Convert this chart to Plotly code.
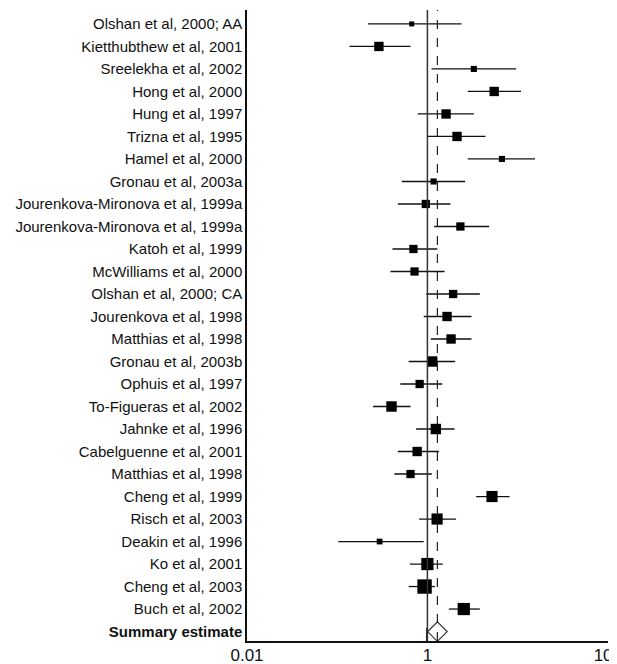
import plotly.graph_objects as go

studies = [
    "Olshan et al, 2000; AA", "Kietthubthew et al, 2001", "Sreelekha et al, 2002",
    "Hong et al, 2000", "Hung et al, 1997", "Trizna et al, 1995", "Hamel et al, 2000",
    "Gronau et al, 2003a", "Jourenkova-Mironova et al, 1999a",
    "Jourenkova-Mironova et al, 1999a", "Katoh et al, 1999", "McWilliams et al, 2000",
    "Olshan et al, 2000; CA", "Jourenkova et al, 1998", "Matthias et al, 1998",
    "Gronau et al, 2003b", "Ophuis et al, 1997", "To-Figueras et al, 2002",
    "Jahnke et al, 1996", "Cabelguenne et al, 2001", "Matthias et al, 1998",
    "Cheng et al, 1999", "Risch et al, 2003", "Deakin et al, 1996", "Ko et al, 2001",
    "Cheng et al, 2003", "Buch et al, 2002",
]
odds_ratio = [0.67, 0.29, 3.27, 5.5, 1.61, 2.13, 6.7, 1.17, 0.96, 2.32, 0.70, 0.72,
              1.93, 1.65, 1.83, 1.13, 0.82, 0.40, 1.24, 0.77, 0.65, 5.2, 1.28, 0.295,
              1.0, 0.93, 2.53]
ci_lower = [0.22, 0.137, 1.11, 2.8, 0.78, 1.0, 2.8, 0.52, 0.47, 1.19, 0.41, 0.39,
            0.97, 0.91, 1.09, 0.62, 0.50, 0.25, 0.75, 0.47, 0.43, 3.47, 0.81, 0.103,
            0.64, 0.62, 1.73]
ci_upper = [2.39, 0.65, 9.6, 10.9, 3.27, 4.4, 15.6, 2.62, 1.8, 4.84, 1.29, 1.55,
            3.81, 3.08, 3.08, 2.03, 1.46, 0.65, 2.0, 1.34, 1.12, 8.15, 2.08, 0.91,
            1.48, 1.21, 3.81]
study_weight = [1.4, 2.6, 1.7, 2.6, 2.6, 2.6, 1.7, 1.7, 2.3, 2.3, 2.3, 2.3, 2.3,
                2.6, 2.6, 2.9, 2.3, 2.9, 2.9, 2.6, 2.3, 3.1, 3.1, 1.6, 3.4, 4.0, 3.4]
summary_label = "Summary estimate"
summary_or = 1.29

rows = list(range(1, len(studies) + 1))
summary_row = len(studies) + 1

fig = go.Figure()

# CI lines
xs, ys = [], []
for lo, hi, r in zip(ci_lower, ci_upper, rows):
    xs += [lo, hi, None]
    ys += [r, r, None]
fig.add_trace(go.Scatter(x=xs, y=ys, mode="lines",
                         line=dict(color="#111111", width=1.3),
                         hoverinfo="skip", showlegend=False))

# point estimates
fig.add_trace(go.Scatter(x=odds_ratio, y=rows, mode="markers",
                         marker=dict(symbol="square", color="black", opacity=1,
                                     size=[3.6 * w for w in study_weight],
                                     line=dict(width=0)),
                         showlegend=False))

# reference lines
fig.add_shape(type="line", x0=1, x1=1, xref="x", y0=0, y1=1, yref="paper",
              line=dict(color="#333333", width=1.5))
fig.add_shape(type="line", x0=summary_or, x1=summary_or, xref="x", y0=0, y1=1,
              yref="paper", line=dict(color="#222222", width=1.2, dash="dash"))

# summary diamond
fig.add_trace(go.Scatter(x=[summary_or], y=[summary_row], mode="markers",
                         marker=dict(symbol="diamond", color="white", size=15,
                                     opacity=1,
                                     line=dict(color="#333333", width=1.2)),
                         showlegend=False))

fig.update_layout(
    width=609, height=656,
    margin=dict(l=239, r=9, t=2, b=23),
    paper_bgcolor="white", plot_bgcolor="white",
    font=dict(family="Liberation Sans, Arial, sans-serif", color="#111111"),
)
fig.update_xaxes(type="log", range=[-2, 2.002], tickvals=[0.01, 1, 100],
                 ticktext=["0.01", "1", "100"], ticks="inside", ticklen=13,
                 tickwidth=1.5, tickcolor="#222222", showline=True,
                 linecolor="#111111", linewidth=1.5, showgrid=False,
                 zeroline=False, automargin=False, ticklabeloverflow="allow",
                 ticklabelstandoff=-2, tickfont=dict(size=17))
fig.update_yaxes(range=[summary_row + 0.42, 0.38], tickvals=rows + [summary_row],
                 ticktext=studies + ["<b>" + summary_label + "</b>"],
                 ticks="", showline=True, linecolor="#111111", linewidth=1.5,
                 showgrid=False, zeroline=False, automargin=False,
                 tickfont=dict(size=15))

fig.write_html("out.html")
